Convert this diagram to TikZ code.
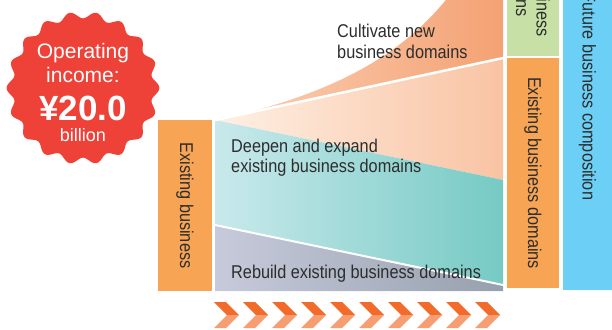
\documentclass[tikz,border=0pt]{standalone}
\usepackage{fontspec}
\setmainfont{Liberation Sans}[FakeStretch=0.88]
\newfontfamily\burstfont{Liberation Sans}

\definecolor{inktext}{HTML}{2D2D2D}
\definecolor{burstred}{HTML}{EE4137}
\definecolor{boxorange}{HTML}{F7A554}
\definecolor{boxgreen}{HTML}{C6E0A6}
\definecolor{boxblue}{HTML}{6CCFF5}
\definecolor{newL}{HTML}{FBD0B6}
\definecolor{newR}{HTML}{F4A273}
\definecolor{peachL}{HTML}{FEF0E4}
\definecolor{peachR}{HTML}{F9C3A3}
\definecolor{tealL}{HTML}{C9E9EC}
\definecolor{tealR}{HTML}{76CAC4}
\definecolor{greyL}{HTML}{C7CADB}
\definecolor{greyR}{HTML}{97A0AE}
\definecolor{chevdark}{HTML}{F26B2A}
\definecolor{chevlight}{HTML}{F69E72}

\newcommand\labelfont{\fontsize{18.5}{20.5}\selectfont}

\begin{document}
\begin{tikzpicture}[x=1pt,y=-1pt,line cap=round,
  box/.style={rectangle,inner sep=0pt,rotate=-90,text=inktext,font=\labelfont,align=center},
  lbl/.style={inner sep=0pt,text=inktext,font=\labelfont,align=left},
  burst/.style={inner sep=0pt,text=white,font=\burstfont}]
  \useasboundingbox (0,0) rectangle (612,329);
  \clip (0,0) rectangle (612,329);

  \coordinate (tip) at (215,120);
  \coordinate (split) at (215,225);
  \coordinate (newend) at (505,57.6);
  \coordinate (rebend) at (505,285.4);

  % funnel bands
  \shade[left color=newL,right color=newR]
    (225,117.85) .. controls (340,92) and (410,50) .. (455,-12) -- (503,-12) -- (503,58) -- cycle;
  \shade[left color=peachL,right color=peachR] (tip) -- (503,58) -- (503,180) -- cycle;
  \shade[left color=tealL,right color=tealR] (tip) -- (503,180) -- (503,285) -- (split) -- cycle;
  \shade[left color=greyL,right color=greyR] (split) -- (503,285) -- (503,291) -- (215,291) -- cycle;
  \draw[white,line width=2.5pt,line cap=butt] (tip) -- (newend);
  \draw[white,line width=2pt,line cap=butt] (split) -- (rebend);

  \node[lbl,anchor=north west] (cultivate) at (337,24) {Cultivate new\\business domains};
  \node[lbl,anchor=north west] (deepen) at (231,138.5) {Deepen and expand\\existing business domains};
  \node[lbl,anchor=base west] (rebuild) at (231,278) {Rebuild existing business domains};

  % boxes
  \node[box,fill=boxorange,minimum width=171,minimum height=54] (exist) at (185,205.5) {Existing business};
  \node[box,fill=boxgreen,minimum width=140,minimum height=52] (newdom) at (533,-14) {New business\\domains};
  \node[box,fill=boxorange,minimum width=230,minimum height=52] (existdom) at (533,173) {Existing business domains};
  \node[box,fill=boxblue,minimum width=387,minimum height=49] (future) at (587.5,96.5) {Future business composition};

  % operating income badge
  \fill[burstred,shift={(83,88)}]
    plot[domain=0:360,samples=217,smooth cycle] (\x:{73+3.4*cos(18*\x)});
  \node[burst,anchor=base,font=\burstfont\fontsize{21}{21}\selectfont] (opA) at (83,58) {Operating};
  \node[burst,anchor=base,font=\burstfont\fontsize{21}{21}\selectfont] (opB) at (83,82) {income:};
  \node[burst,anchor=base,font=\burstfont\bfseries\fontsize{35}{35}\selectfont] (opC) at (83,120) {¥20.0};
  \node[burst,anchor=base,font=\burstfont\fontsize{18}{18}\selectfont] (opD) at (83,141) {billion};

  % progress chevrons
  \foreach \i in {0,...,9}{
    \fill[chevdark,xshift=29*\i] (214,302) -- (226,302) -- (239,315) -- (227,315) -- cycle;
    \fill[chevlight,xshift=29*\i] (227,315) -- (239,315) -- (226,328) -- (214,328) -- cycle;
  }
\end{tikzpicture}
\end{document}
